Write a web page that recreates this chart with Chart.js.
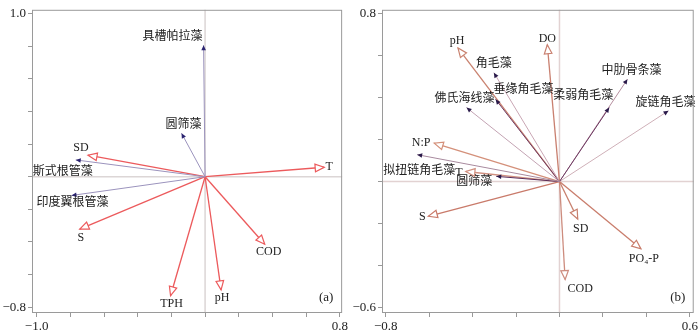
<!DOCTYPE html>
<html>
<head>
<meta charset="utf-8">
<script src="https://cdn.jsdelivr.net/npm/chart.js@4.4.1/dist/chart.umd.min.js"></script>
<style>
  body { margin: 0; background: #fff; }
  .panel { position: absolute; top: 0; width: 350px; height: 330px; }
</style>
</head>
<body>
<div class="panel" style="left:0"><canvas id="rdaA" width="350" height="330"></canvas></div>
<div class="panel" style="left:350px"><canvas id="rdaB" width="350" height="330"></canvas></div>
<script>
// (a) species and environmental factor loadings
const speciesA = ['具槽帕拉藻', '圆筛藻', '斯式根管藻', '印度翼根管藻'];
const speciesAX = [-0.009, -0.140, -0.768, -0.793];
const speciesAY = [0.806, 0.267, 0.103, -0.115];
const envA = ['SD', 'T', 'S', 'COD', 'TPH', 'pH'];
const envAX = [-0.695, 0.707, -0.744, 0.354, -0.205, 0.095];
const envAY = [0.132, 0.058, -0.321, -0.414, -0.730, -0.694];
const xTicksA = [-1.0, -0.8, -0.6, -0.4, -0.2, 0, 0.2, 0.4, 0.6, 0.8];
const yTicksA = [-0.8, -0.6, -0.4, -0.2, 0, 0.2, 0.4, 0.6, 0.8, 1.0];

// (b)
const speciesB = ['角毛藻', '垂缘角毛藻', '佛氏海线藻', '拟扭链角毛藻', '圆筛藻', '柔弱角毛藻', '中肋骨条藻', '旋链角毛藻'];
const speciesBX = [-0.302, -0.294, -0.428, -0.655, -0.291, 0.229, 0.313, 0.502];
const speciesBY = [0.518, 0.391, 0.352, 0.128, 0.025, 0.352, 0.487, 0.337];
const envB = ['pH', 'DO', 'N:P', 'T', 'S', 'SD', 'PO₄-P', 'COD'];
const envBX = [-0.467, -0.056, -0.577, -0.431, -0.604, 0.084, 0.375, 0.026];
const envBY = [0.635, 0.651, 0.183, 0.048, -0.165, -0.178, -0.320, -0.466];
const xTicksB = [-0.8, -0.6, -0.4, -0.2, 0, 0.2, 0.4, 0.6];
const yTicksB = [-0.6, -0.4, -0.2, 0, 0.2, 0.4, 0.6, 0.8];

// label placement relative to the arrow tip (px)
const labelOffsetA = {
  '具槽帕拉藻': [-31, -8], '圆筛藻': [2, -8], '斯式根管藻': [-13, 12], '印度翼根管藻': [1, 7],
  'SD': [-7, -7], 'T': [5, 0], 'S': [1, 9], 'COD': [4, 8], 'TPH': [1, 8], 'pH': [1, 8]
};
const labelOffsetB = {
  '角毛藻': [0, -9], '垂缘角毛藻': [28, -10], '佛氏海线藻': [-2, -9], '拟扭链角毛藻': [2, 16],
  '圆筛藻': [-22, 6], '柔弱角毛藻': [-26, -12], '中肋骨条藻': [4, -8], '旋链角毛藻': [-3, -8],
  'pH': [-1, -7], 'DO': [0, -6], 'N:P': [-13, 0], 'T': [-7, 1], 'S': [-6, 1],
  'SD': [3, 10], 'PO₄-P': [3, 10], 'COD': [15, 9]
};

const speciesColorsA = ['#9b93bd', '#9b93bd', '#9b93bd', '#9b93bd'];
const envColorsA = ['#ec5a5c', '#ec5a5c', '#ec5a5c', '#ec5a5c', '#ec5a5c', '#ec5a5c'];
const speciesColorsB = ['#c9a6b4', '#6d3b63', '#c3a3b3', '#a88a9e', '#5a2d5a', '#6e3a63', '#b58e9e', '#cfb0b8'];
const envColorsB = ['#c9826f', '#c98070', '#d4907a', '#d09080', '#c97a6a', '#c8806e', '#c97d6c', '#cd8c7e'];

const LABEL_FONT = '12px "Liberation Serif", "Noto Sans CJK SC", serif';

function fmt(v) {
  return (v < 0 ? '\u2212' : '') + Math.abs(v).toFixed(1);
}

function vectors(names, xs, ys, kind, colors) {
  return names.map((n, i) => ({
    label: n,
    kind: kind,
    data: [{ x: 0, y: 0 }, { x: xs[i], y: ys[i] }],
    borderColor: colors[i],
    borderWidth: kind === 'env' ? 1.3 : 1,
    pointRadius: 0,
    showLine: true,
    fill: false
  }));
}

const biplot = {
  id: 'biplot',
  beforeDatasetsDraw(chart, args, opts) {
    const { ctx, chartArea: a, scales: { x, y } } = chart;
    const x0 = x.getPixelForValue(0), y0 = y.getPixelForValue(0);
    ctx.save();
    ctx.strokeStyle = opts.zeroColor;
    ctx.lineWidth = 1.5;
    ctx.beginPath();
    ctx.moveTo(x0, a.top); ctx.lineTo(x0, a.bottom);
    ctx.moveTo(a.left, y0); ctx.lineTo(a.right, y0);
    ctx.stroke();
    ctx.restore();
  },
  afterDatasetsDraw(chart, args, opts) {
    const { ctx, chartArea: a } = chart;
    ctx.save();
    chart.data.datasets.forEach((ds, i) => {
      const meta = chart.getDatasetMeta(i);
      const p0 = meta.data[0], p1 = meta.data[1];
      const ang = Math.atan2(p1.y - p0.y, p1.x - p0.x);
      const open = ds.kind === 'env';
      const len = open ? 9 : 5, half = open ? 3.8 : 2.3;
      ctx.save();
      ctx.translate(p1.x, p1.y);
      ctx.rotate(ang);
      ctx.beginPath();
      ctx.moveTo(0, 0);
      ctx.lineTo(-len, -half);
      ctx.lineTo(-len, half);
      ctx.closePath();
      if (open) {
        ctx.fillStyle = '#fff';
        ctx.fill();
        ctx.strokeStyle = ds.borderColor;
        ctx.lineWidth = 1.2;
        ctx.stroke();
      } else {
        ctx.fillStyle = opts.headColor;
        ctx.fill();
      }
      ctx.restore();

      const off = opts.offsets[ds.label] || [0, 0];
      ctx.font = LABEL_FONT;
      ctx.fillStyle = '#222';
      ctx.textAlign = 'center';
      ctx.textBaseline = 'middle';
      ctx.fillText(ds.label, p1.x + off[0], p1.y + off[1]);
    });

    ctx.font = '13px "Liberation Serif", serif';
    ctx.fillStyle = '#222';
    ctx.textAlign = 'center';
    ctx.fillText(opts.tag, a.right - 16, a.bottom - 15);

    ctx.strokeStyle = '#9a9a9a';
    ctx.lineWidth = 1;
    ctx.strokeRect(a.left + 0.5, a.top + 0.5, a.width - 1, a.height - 1);
    ctx.restore();
  }
};

function axis(min, max, values, ends, pos) {
  return {
    type: 'linear',
    position: pos,
    min: min,
    max: max,
    border: { display: false },
    grid: { drawOnChartArea: false, drawTicks: true, tickLength: 4, color: '#999' },
    afterBuildTicks: s => { s.ticks = values.map(v => ({ value: v })); },
    afterFit: s => { if (pos === 'left') s.width = 32; else s.height = 17; },
    ticks: {
      autoSkip: false,
      maxRotation: 0,
      padding: 2,
      color: '#222',
      font: { family: '"Liberation Serif", serif', size: 13 },
      callback: v => ends.includes(v) ? fmt(v) : ''
    }
  };
}

function makeBiplot(id, datasets, xRange, yRange, xTicks, yTicks, plug) {
  new Chart(document.getElementById(id), {
    type: 'scatter',
    data: { datasets: datasets },
    options: {
      responsive: false,
      animation: false,
      layout: { autoPadding: false, padding: { top: 2, right: 5, left: 0, bottom: 0 } },
      scales: {
        x: axis(xRange[0], xRange[1], xTicks, [xTicks[0], xTicks[xTicks.length - 1]], 'bottom'),
        y: axis(yRange[0], yRange[1], yTicks, [yTicks[0], yTicks[yTicks.length - 1]], 'left')
      },
      plugins: { legend: { display: false }, tooltip: { enabled: false }, biplot: plug }
    },
    plugins: [biplot]
  });
}

makeBiplot('rdaA',
  vectors(speciesA, speciesAX, speciesAY, 'species', speciesColorsA)
    .concat(vectors(envA, envAX, envAY, 'env', envColorsA)),
  [-1.0276, 0.8136], [-0.836, 1.024], xTicksA, yTicksA,
  { offsets: labelOffsetA, tag: '(a)', zeroColor: '#dcd6d6', headColor: '#2b2470' });

makeBiplot('rdaB',
  vectors(speciesB, speciesBX, speciesBY, 'species', speciesColorsB)
    .concat(vectors(envB, envBX, envBY, 'env', envColorsB)),
  [-0.817, 0.618], [-0.625, 0.817], xTicksB, yTicksB,
  { offsets: labelOffsetB, tag: '(b)', zeroColor: '#e2d2d2', headColor: '#2a1a4a' });
</script>
</body>
</html>
